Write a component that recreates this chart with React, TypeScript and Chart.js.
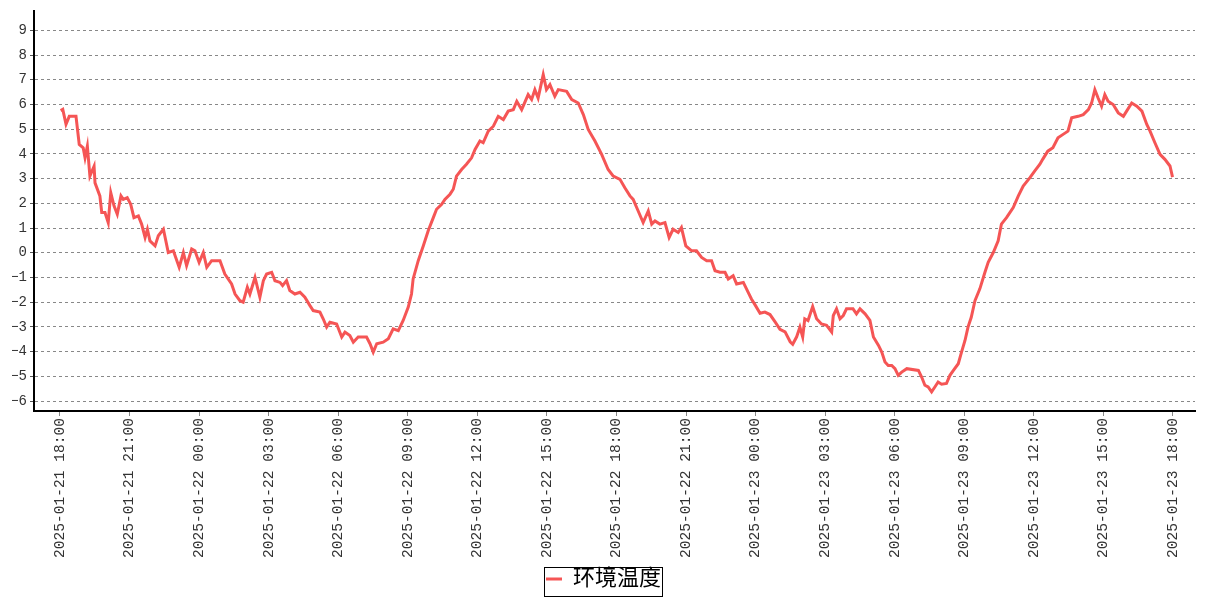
import { useEffect, useRef } from 'react';
import { Chart, registerables } from 'chart.js';

Chart.register(...registerables);

// Hours elapsed since 2025-01-21 18:00
const hours = [
  0.03, 0.12, 0.26, 0.4, 0.69, 0.83, 1.0, 1.08, 1.18, 1.29, 1.47, 1.51, 1.72, 1.8, 1.94, 2.08, 2.19, 2.33, 2.47, 2.63,
  2.73, 2.9, 3.05, 3.19, 3.38, 3.52, 3.67, 3.77, 3.88, 4.1, 4.24, 4.46, 4.67, 4.89, 5.14, 5.32, 5.46, 5.68, 5.82, 6.0,
  6.18, 6.33, 6.54, 6.9, 7.11, 7.4, 7.55, 7.76, 7.9, 8.08, 8.19, 8.41, 8.62, 8.77, 8.91, 9.13, 9.27, 9.49, 9.6, 9.77,
  9.91, 10.13, 10.35, 10.56, 10.78, 10.92, 11.21, 11.35, 11.5, 11.64, 11.93, 12.15, 12.29, 12.5, 12.65, 12.86, 13.22, 13.37, 13.51, 13.66,
  13.94, 14.16, 14.37, 14.59, 14.8, 15.02, 15.16, 15.23, 15.45, 15.67, 15.88, 16.1, 16.24, 16.46, 16.6, 16.82, 16.96, 17.1, 17.32, 17.53,
  17.75, 17.9, 18.11, 18.25, 18.47, 18.69, 18.9, 19.12, 19.33, 19.55, 19.7, 19.91, 20.19, 20.34, 20.48, 20.62, 20.84, 20.98, 21.13, 21.34,
  21.49, 21.85, 22.07, 22.35, 22.57, 22.78, 23.07, 23.36, 23.64, 23.86, 24.15, 24.36, 24.58, 24.72, 24.87, 25.15, 25.37, 25.52, 25.66, 25.87,
  26.09, 26.27, 26.44, 26.66, 26.8, 26.99, 27.24, 27.45, 27.67, 27.89, 28.1, 28.25, 28.46, 28.68, 28.82, 29.03, 29.18, 29.47, 29.68, 29.82,
  29.97, 30.19, 30.4, 30.62, 30.84, 31.05, 31.27, 31.49, 31.6, 31.77, 31.91, 32.03, 32.12, 32.26, 32.46, 32.63, 32.84, 33.06, 33.28, 33.35,
  33.49, 33.64, 33.78, 33.92, 34.2, 34.35, 34.5, 34.72, 34.93, 35.08, 35.3, 35.44, 35.58, 35.72, 35.87, 36.01, 36.15, 36.3, 36.52, 37.02,
  37.16, 37.3, 37.44, 37.59, 37.73, 37.87, 38.02, 38.23, 38.38, 38.53, 38.74, 38.88, 39.03, 39.16, 39.3, 39.46, 39.67, 39.89, 40.03, 40.25,
  40.46, 40.6, 40.82, 41.11, 41.33, 41.54, 41.83, 42.04, 42.26, 42.38, 42.6, 42.82, 43.04, 43.26, 43.47, 43.63, 43.91, 44.13, 44.35, 44.49,
  44.63, 44.77, 44.92, 45.06, 45.2, 45.42, 45.64, 45.86, 46.0, 46.22, 46.44, 46.66, 46.87, 47.01, 47.22, 47.44, 47.65, 47.87, 47.98,
];

const temps = [
  5.75, 5.8, 5.2, 5.52, 5.52, 4.38, 4.25, 3.84, 4.31, 3.1, 3.5, 2.83, 2.3, 1.63, 1.63, 1.22, 2.43, 1.9, 1.56, 2.3,
  2.16, 2.23, 1.96, 1.42, 1.49, 1.16, 0.62, 0.95, 0.48, 0.28, 0.69, 0.95, 0.01, 0.08, -0.59, 0.01, -0.52, 0.15, 0.08, -0.39,
  0.01, -0.59, -0.32, -0.32, -0.86, -1.26, -1.67, -1.94, -2.0, -1.4, -1.67, -1.0, -1.8, -1.13, -0.86, -0.79, -1.13, -1.2, -1.33, -1.13,
  -1.53, -1.67, -1.6, -1.8, -2.14, -2.34, -2.4, -2.67, -3.01, -2.81, -2.88, -3.41, -3.21, -3.35, -3.62, -3.41, -3.41, -3.68, -4.02, -3.68,
  -3.62, -3.48, -3.08, -3.15, -2.74, -2.2, -1.67, -1.06, -0.32, 0.28, 0.89, 1.42, 1.76, 1.96, 2.16, 2.37, 2.57, 3.1, 3.37, 3.58,
  3.84, 4.18, 4.52, 4.45, 4.92, 5.12, 5.52, 5.39, 5.73, 5.79, 6.13, 5.79, 6.4, 6.2, 6.6, 6.26, 7.21, 6.6, 6.8, 6.33,
  6.6, 6.53, 6.2, 6.06, 5.59, 4.99, 4.52, 3.98, 3.37, 3.1, 2.97, 2.63, 2.3, 2.16, 1.83, 1.22, 1.69, 1.16, 1.29, 1.16,
  1.22, 0.62, 0.95, 0.82, 1.02, 0.28, 0.08, 0.08, -0.19, -0.32, -0.32, -0.73, -0.79, -0.79, -1.06, -0.93, -1.26, -1.2, -1.6, -1.87,
  -2.1, -2.45, -2.4, -2.5, -2.8, -3.1, -3.2, -3.6, -3.7, -3.4, -3.01, -3.41, -2.67, -2.74, -2.18, -2.67, -2.88, -2.94, -3.21, -2.54,
  -2.27, -2.67, -2.54, -2.27, -2.27, -2.47, -2.27, -2.47, -2.74, -3.41, -3.75, -4.02, -4.42, -4.56, -4.56, -4.69, -4.96, -4.83, -4.69, -4.76,
  -5.03, -5.36, -5.43, -5.63, -5.43, -5.23, -5.32, -5.29, -4.96, -4.76, -4.49, -4.02, -3.55, -3.01, -2.61, -1.94, -1.46, -0.79, -0.39, 0.01,
  0.48, 1.16, 1.42, 1.83, 2.3, 2.7, 3.04, 3.31, 3.58, 3.78, 4.11, 4.25, 4.65, 4.79, 4.92, 5.46, 5.52, 5.59, 5.79, 6.06,
  6.6, 6.26, 5.93, 6.4, 6.13, 6.0, 5.66, 5.52, 5.73, 6.06, 5.93, 5.73, 5.19, 4.92, 4.45, 3.98, 3.78, 3.51, 3.06,
];

const xTickHours = [0, 3, 6, 9, 12, 15, 18, 21, 24, 27, 30, 33, 36, 39, 42, 45, 48];
const yTickValues = [-6, -5, -4, -3, -2, -1, 0, 1, 2, 3, 4, 5, 6, 7, 8, 9];
const seriesName = '环境温度';
const startDay = 21;
const startHour = 18;

const LINE_COLOR = 'rgb(245, 85, 85)';
const MONO = '"Liberation Mono", "DejaVu Sans Mono", monospace';
const SERIF = '"Liberation Serif", "DejaVu Serif", "Noto Sans CJK SC", serif';

function pad(n: number): string {
  return n < 10 ? '0' + n : String(n);
}

function formatHour(h: number): string {
  const total = startHour + Math.round(h);
  const day = startDay + Math.floor(total / 24);
  const hr = total % 24;
  return `2025-01-${pad(day)} ${pad(hr)}:00`;
}

const legendBorder = {
  id: 'legendBorder',
  afterDraw(chart: any) {
    const lg = chart.legend;
    if (!lg || !lg.legendHitBoxes || !lg.legendHitBoxes.length) return;
    const hb = lg.legendHitBoxes[0];
    const ctx = chart.ctx;
    ctx.save();
    ctx.strokeStyle = '#000';
    ctx.lineWidth = 1;
    ctx.strokeRect(Math.round(hb.left - 2) + 0.5, Math.round(hb.top - 1) + 0.5, Math.round(hb.width + 3), Math.round(hb.height + 7));
    ctx.restore();
  },
};

export default function App() {
  const ref = useRef<HTMLCanvasElement>(null);

  useEffect(() => {
    if (!ref.current) return;
    const chart = new Chart(ref.current, {
      type: 'line',
      data: {
        datasets: [
          {
            label: seriesName,
            data: hours.map((h, i) => ({ x: h, y: temps[i] })),
            borderColor: LINE_COLOR,
            backgroundColor: LINE_COLOR,
            borderWidth: 3,
            pointRadius: 0,
            tension: 0,
          },
        ],
      },
      options: {
        responsive: false,
        animation: false,
        layout: { padding: { top: 10, right: 12, bottom: 0, left: 12 } },
        plugins: {
          tooltip: { enabled: false },
          legend: {
            position: 'bottom',
            labels: {
              boxWidth: 16,
              boxHeight: 3,
              padding: 6,
              color: '#222',
              font: { family: SERIF, size: 22 },
              generateLabels: () => [
                {
                  text: seriesName,
                  fillStyle: LINE_COLOR,
                  strokeStyle: LINE_COLOR,
                  lineWidth: 0,
                  hidden: false,
                  datasetIndex: 0,
                } as any,
              ],
            },
          },
        },
        scales: {
          x: {
            type: 'linear',
            min: -1.121,
            max: 48.949,
            afterBuildTicks: (s: any) => {
              s.ticks = xTickHours.map((v) => ({ value: v }));
            },
            afterFit: (s: any) => {
              s.height = 151;
            },
            border: { display: true, color: '#000', width: 2 },
            grid: { drawOnChartArea: false, drawTicks: true, tickLength: 5, tickColor: '#888', lineWidth: 1 },
            ticks: {
              autoSkip: false,
              minRotation: 90,
              maxRotation: 90,
              padding: 2,
              color: '#333',
              font: { family: MONO, size: 14.6 },
              callback: (v: any) => formatHour(Number(v)),
            },
          },
          y: {
            type: 'linear',
            min: -6.403,
            max: 9.766,
            afterBuildTicks: (s: any) => {
              s.ticks = yTickValues.map((v) => ({ value: v }));
            },
            afterFit: (s: any) => {
              s.width = 22;
            },
            border: { display: true, color: '#000', width: 2, dash: [3, 3] },
            grid: { color: '#888', lineWidth: 1, drawTicks: true, tickLength: 4, tickColor: '#555', tickBorderDash: [] },
            ticks: {
              padding: 3,
              color: '#333',
              font: { family: MONO, size: 14 },
              callback: (v: any) => String(v).replace('-', '\u2212'),
            },
          },
        },
      },
      plugins: [legendBorder],
    } as any);
    return () => chart.destroy();
  }, []);

  return (
    <canvas
      ref={ref}
      width={1207}
      height={600}
      style={{ position: 'fixed', left: 0, top: 0, width: 1207, height: 600 }}
    />
  );
}
